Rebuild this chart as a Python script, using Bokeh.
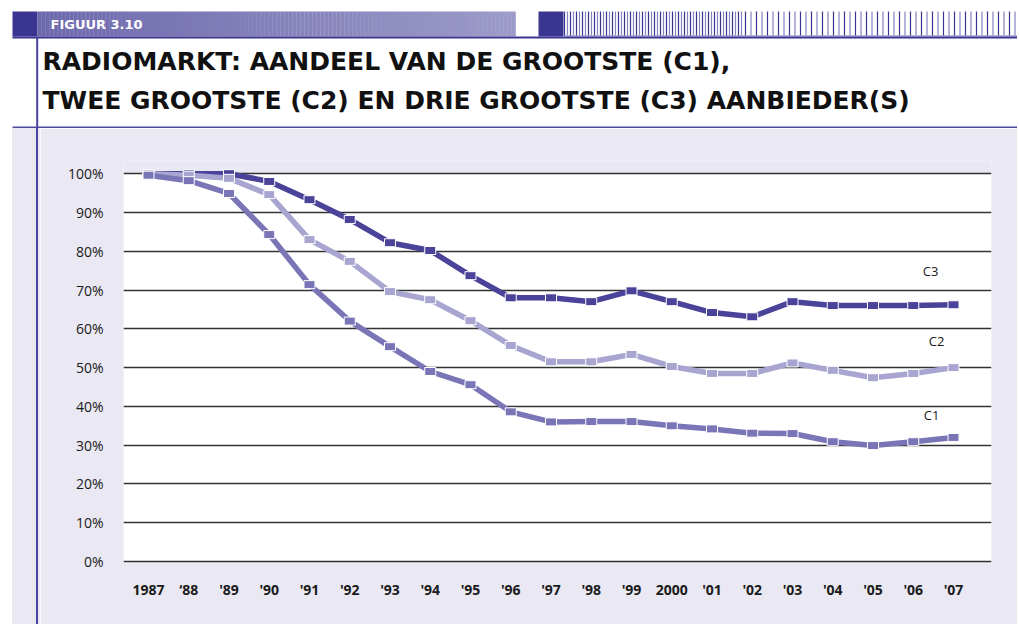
import numpy as np
from bokeh.plotting import figure
from bokeh.layouts import column, row
from bokeh.models import Range1d, FixedTicker, PrintfTickFormatter, Label, Div
from bokeh.embed import file_html
from bokeh.resources import INLINE
from bokeh.core.properties import value

# ---------------- data ----------------
years = list(range(1987, 2008))
year_labels = ["1987", "\u201888", "'89", "'90", "'91", "'92", "'93", "'94", "'95", "'96",
               "'97", "'98", "'99", "2000", "'01", "'02", "'03", "'04", "'05", "'06", "'07"]
c3 = [100, 100, 100, 98, 93.3, 88.2, 82.2, 80.2, 73.7, 68, 68, 67, 69.8, 67, 64.2, 63.1, 67, 66, 66, 66, 66.2]
c2 = [100, 99.6, 98.8, 94.6, 83, 77.4, 69.6, 67.5, 62.1, 55.7, 51.5, 51.5, 53.4, 50.3, 48.5, 48.5, 51.2, 49.3, 47.4, 48.5, 50]
c1 = [99.6, 98.2, 94.9, 84.3, 71.4, 62, 55.4, 49, 45.6, 38.6, 36, 36.1, 36.1, 35, 34.2, 33.1, 33, 30.9, 29.9, 30.9, 32]
y_ticks = list(range(0, 101, 10))

# ---------------- styles ----------------
LAV = "#e9e8f3"
DARK = "#3a3590"
LINE_BLUE = "#4744a0"
col_c3 = "#4a4399"
col_c2 = "#a8a5d1"
col_c1 = "#7a75b7"

W = 1017
HDR_H = 128
BODY_H = 496

# ---------------- header ----------------
hdr = figure(width=W, height=HDR_H, x_range=Range1d(0, W), y_range=Range1d(HDR_H, 0),
             x_axis_type=None, y_axis_type=None, min_border=0, toolbar_location=None,
             title=None, output_backend="svg", outline_line_color=None,
             background_fill_color="white", border_fill_color="white")
hdr.grid.visible = False

hdr.quad(left=12, right=37, top=11, bottom=36, fill_color=DARK, line_color=None)
n = 120
edges = np.linspace(37, 515, n + 1)
c_left = np.array([0x6e, 0x69, 0xad])
c_right = np.array([0x9d, 0x9b, 0xc9])
cols = []
for i in range(n):
    t = i / (n - 1)
    c = (c_left * (1 - t) + c_right * t).astype(int)
    cols.append("#%02x%02x%02x" % tuple(c))
hdr.quad(left=edges[:-1], right=edges[1:] + 0.3, top=11, bottom=36, fill_color=cols, line_color=None)
hdr.quad(left=538, right=563, top=11, bottom=36, fill_color=DARK, line_color=None)
hdr.quad(left=563, right=W, top=34.5, bottom=36.2, fill_color="#b9b7da", line_color=None)
sx = list(np.arange(564, 742, 3.0)) + list(np.arange(745, W, 5.5))
scol = [DARK if i % 2 == 0 else "#8583c0" for i in range(len(sx))]
hdr.segment(x0=sx, x1=sx, y0=11, y1=35, line_color=scol, line_width=1.2)
hdr.segment(x0=[12], x1=[W], y0=[37], y1=[37], line_color=DARK, line_width=2)
hdr.segment(x0=[12], x1=[W], y0=[127], y1=[127], line_color="#4d4a9c", line_width=2)
hdr.segment(x0=[36.7], x1=[36.7], y0=[37], y1=[HDR_H], line_color=LINE_BLUE, line_width=2)

hdr.text(x=[50], y=[23.5], text=["FIGUUR 3.10"], text_color="white",
         text_font=value("DejaVu Sans"), text_font_style="bold", text_font_size="13px",
         text_baseline="middle", text_align="left")
hdr.text(x=[42, 42], y=[61, 100],
         text=["RADIOMARKT: AANDEEL VAN DE GROOTSTE (C1),",
               "TWEE GROOTSTE (C2) EN DRIE GROOTSTE (C3) AANBIEDER(S)"],
         text_color="#111111", text_font=value("DejaVu Sans"), text_font_style="bold",
         text_font_size="25px", text_baseline="middle", text_align="left")

# ---------------- left strip (plain HTML block) ----------------
STRIP_W = 40
strip = Div(text="", width=STRIP_W, height=BODY_H, margin=0,
            styles={"background": "linear-gradient(to right, white 0px, white 12px, "
                                  f"{LAV} 12px, {LAV} 36px, {LINE_BLUE} 36px, {LINE_BLUE} 38px, "
                                  f"{LAV} 38px, {LAV} 40px)",
                    "width": f"{STRIP_W}px", "height": f"{BODY_H}px"})

# ---------------- chart ----------------
CH_W = W - STRIP_W
xr = Range1d(years[0] - 0.621, years[0] + 20.944)
ch = figure(width=CH_W, height=BODY_H, x_range=xr, y_range=Range1d(-0.5, 103.4),
            min_border_left=123 - STRIP_W, min_border_right=W - 991,
            min_border_top=160 - HDR_H, min_border_bottom=HDR_H + BODY_H - 563,
            toolbar_location=None, title=None, output_backend="svg",
            background_fill_color=LAV, border_fill_color=LAV, outline_line_color=None)

# white plotting panel from 0% to 100%
ch.quad(left=xr.start, right=xr.end, bottom=y_ticks[0], top=y_ticks[-1],
        fill_color="white", line_color=None, level="image")

ch.xgrid.visible = False
ch.ygrid.ticker = FixedTicker(ticks=y_ticks)
ch.ygrid.grid_line_color = "#333333"
ch.ygrid.grid_line_width = 1.5

ch.xaxis.ticker = FixedTicker(ticks=years)
ch.xaxis.major_label_overrides = {y: l for y, l in zip(years, year_labels)}
ch.yaxis.ticker = FixedTicker(ticks=y_ticks)
ch.yaxis.formatter = PrintfTickFormatter(format="%d%%")
for ax in (ch.xaxis[0], ch.yaxis[0]):
    ax.axis_line_color = None
    ax.major_tick_line_color = None
    ax.minor_tick_line_color = None
    ax.major_label_text_font = "Open Sans"
    ax.major_label_text_font_size = "14px"
    ax.major_label_text_color = "#1a1a1a"
ch.xaxis.major_label_text_font_style = "bold"
ch.xaxis.major_label_standoff = 10
ch.yaxis.major_label_standoff = 14

for vals, colr in ((c3, col_c3), (c2, col_c2), (c1, col_c1)):
    ch.line(years, vals, line_color=colr, line_width=5.5)
    ch.rect(years, vals, width=11, height=8, width_units="screen", height_units="screen",
            fill_color=colr, line_color="white", line_width=1)

for name, vals, dx, dy in (("C3", c3, -23, 34), ("C2", c2, -17, 27), ("C1", c1, -22, 22)):
    ch.add_layout(Label(x=years[-1], y=vals[-1], x_offset=dx, y_offset=dy, text=name,
                        text_align="center", text_baseline="middle",
                        text_font="Open Sans", text_font_size="13px", text_color="#1a1a1a"))

layout = column(hdr, row(strip, ch, spacing=0), spacing=0)
open("out.html", "w").write(file_html(layout, INLINE))
